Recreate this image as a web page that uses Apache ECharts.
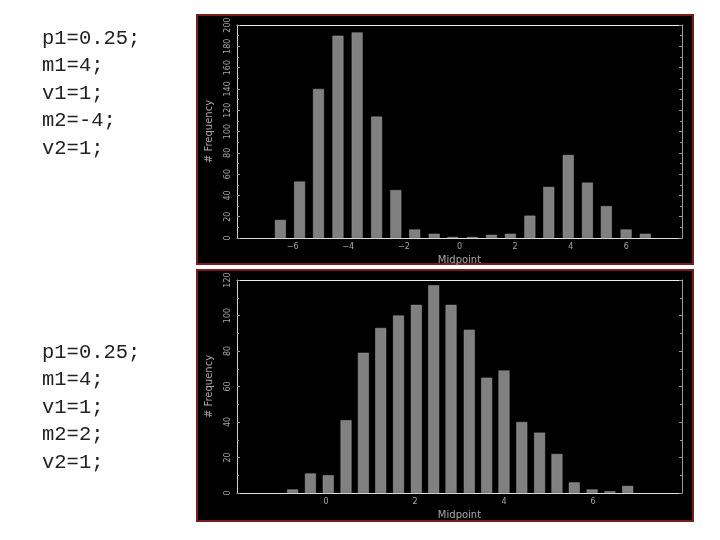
<!DOCTYPE html>
<html>
<head>
<meta charset="utf-8">
<script src="https://cdn.jsdelivr.net/npm/echarts@6/dist/echarts.min.js"></script>
<style>
html,body{margin:0;padding:0;background:#fff;}
#chart{width:720px;height:540px;}
</style>
</head>
<body>
<div id="chart"></div>
<script>
// Top histogram (p1=0.25, m1=4, m2=-4)
const topMidpoints = [-6.44, -5.75, -5.07, -4.37, -3.68, -2.98, -2.29, -1.61, -0.91, -0.24, 0.46, 1.15, 1.83, 2.53, 3.21, 3.91, 4.60, 5.28, 5.99, 6.68];
const topCounts    = [17, 53, 140, 190, 193, 114, 45, 8, 4, 1, 1, 3, 4, 21, 48, 78, 52, 30, 8, 4];
// Bottom histogram (p1=0.25, m1=4, m2=2)
const botMidpoints = [-0.75, -0.35, 0.05, 0.45, 0.84, 1.23, 1.63, 2.03, 2.42, 2.81, 3.22, 3.61, 4.00, 4.40, 4.80, 5.19, 5.58, 5.98, 6.38, 6.78];
const botCounts    = [2, 11, 10, 41, 79, 93, 100, 106, 117, 106, 92, 65, 69, 40, 34, 22, 6, 2, 1, 4];

const topParams = ['p1=0.25;', 'm1=4;', 'v1=1;', 'm2=-4;', 'v2=1;'];
const botParams = ['p1=0.25;', 'm1=4;', 'v1=1;', 'm2=2;', 'v2=1;'];

const xName = 'Midpoint';
const yName = '# Frequency';

const labelColor = '#a8a8a8';
const fmtX = v => (v < 0 ? '\u2212' + Math.abs(v) : String(v));

function xAxisCfg(gi, min, max) {
  return {
    type: 'value', gridIndex: gi, min: min, max: max, interval: 2,
    name: xName, nameLocation: 'middle', nameGap: 17,
    nameTextStyle: {color: labelColor, fontSize: 10, fontFamily: 'DejaVu Sans'},
    axisLine: {show: true, onZero: false, lineStyle: {color: '#e0e0e0', width: 1}},
    axisTick: {show: false},
    splitLine: {show: false},
    axisLabel: {color: labelColor, fontSize: 8, margin: 5, formatter: fmtX, fontFamily: 'DejaVu Sans',
      showMinLabel: false, showMaxLabel: false}
  };
}
function xTopCfg(gi, min, max) {
  return {
    type: 'value', gridIndex: gi, min: min, max: max, position: 'top',
    axisLine: {show: true, onZero: false, lineStyle: {color: '#f0f0f0', width: 1}},
    axisTick: {show: false}, axisLabel: {show: false}, splitLine: {show: false}
  };
}
function yAxisCfg(gi, max, interval) {
  return {
    type: 'value', gridIndex: gi, min: 0, max: max, interval: interval, position: 'left',
    name: yName, nameLocation: 'middle', nameGap: 23, nameRotate: 90,
    nameTextStyle: {color: labelColor, fontSize: 10, fontFamily: 'DejaVu Sans'},
    axisLine: {show: true, onZero: false, lineStyle: {color: '#d0d0d0', width: 1}},
    axisTick: {show: true, inside: true, length: 3, lineStyle: {color: '#999'}},
    minorTick: {show: true, splitNumber: 2, length: 2, lineStyle: {color: '#999'}},
    splitLine: {show: false},
    axisLabel: {color: labelColor, fontSize: 8, rotate: 90, margin: 5, fontFamily: 'DejaVu Sans'}
  };
}
function yRightCfg(gi, max, interval) {
  return {
    type: 'value', gridIndex: gi, min: 0, max: max, interval: interval, position: 'right',
    axisLine: {show: true, onZero: false, lineStyle: {color: '#9a9a9a', width: 1}},
    axisTick: {show: true, inside: true, length: 3, lineStyle: {color: '#999'}},
    minorTick: {show: true, splitNumber: 2, length: 2, lineStyle: {color: '#999'}},
    splitLine: {show: false}, axisLabel: {show: false}
  };
}

const graphics = [
  {type: 'rect', z: -10, shape: {x: 197, y: 15, width: 496, height: 249},
   style: {fill: '#000', stroke: '#7a1c1c', lineWidth: 2}},
  {type: 'rect', z: -10, shape: {x: 197, y: 270, width: 496, height: 251},
   style: {fill: '#000', stroke: '#7a1c1c', lineWidth: 2}}
];
const textFont = '20.5px "Liberation Mono", monospace';
topParams.forEach((t, i) => graphics.push({
  type: 'text', left: 42, top: 28 + i * 27.5,
  style: {text: t, fill: '#222', font: textFont}
}));
botParams.forEach((t, i) => graphics.push({
  type: 'text', left: 42, top: 342 + i * 27.5,
  style: {text: t, fill: '#222', font: textFont}
}));

const chart = echarts.init(document.getElementById('chart'), null, {renderer: 'canvas'});
chart.setOption({
  animation: false,
  backgroundColor: '#fff',
  grid: [
    {left: 237, top: 25, width: 445, height: 213},
    {left: 237, top: 280, width: 445, height: 213}
  ],
  xAxis: [xAxisCfg(0, -8, 8), xTopCfg(0, -8, 8), xAxisCfg(1, -2, 8), xTopCfg(1, -2, 8)],
  yAxis: [yAxisCfg(0, 200, 20), yRightCfg(0, 200, 20), yAxisCfg(1, 120, 20), yRightCfg(1, 120, 20)],
  series: [
    {type: 'bar', xAxisIndex: 0, yAxisIndex: 0, barWidth: 11,
     itemStyle: {color: '#808080', borderColor: '#9a9a9a', borderWidth: 0.5},
     data: topMidpoints.map((m, i) => [m, topCounts[i]])},
    {type: 'bar', xAxisIndex: 2, yAxisIndex: 2, barWidth: 11,
     itemStyle: {color: '#808080', borderColor: '#9a9a9a', borderWidth: 0.5},
     data: botMidpoints.map((m, i) => [m, botCounts[i]])}
  ],
  graphic: graphics
});
</script>
</body>
</html>
